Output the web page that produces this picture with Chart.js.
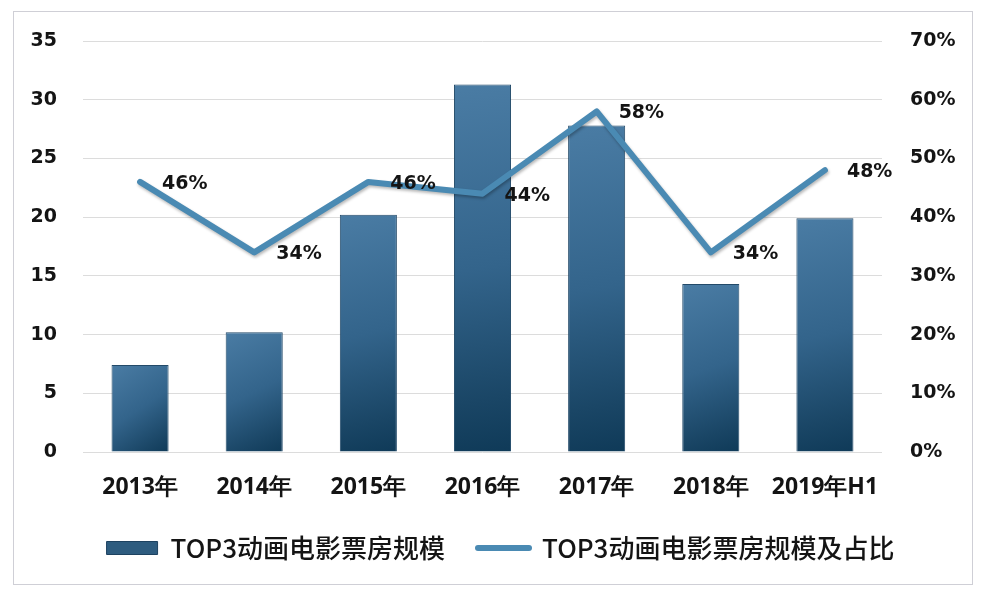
<!DOCTYPE html>
<html><head><meta charset="utf-8">
<script src="https://cdn.jsdelivr.net/npm/chart.js@4.4.1/dist/chart.umd.min.js"></script>
<style>
html,body{margin:0;padding:0;background:#fff;width:984px;height:594px;overflow:hidden}
#frame{position:absolute;left:13px;top:11px;width:958px;height:572px;border:1px solid #cfcfd6;}
#wrap{position:absolute;left:0;top:0;width:984px;height:594px}
</style></head><body>
<div id="frame"></div>
<div id="wrap"><canvas id="c" width="984" height="594"></canvas></div>
<script>
const categories = ['2013年', '2014年', '2015年', '2016年', '2017年', '2018年', '2019年H1'];
const boxOffice = [7.4, 10.2, 20.2, 31.3, 27.8, 14.3, 19.9];
const sharePct = [46, 34, 46, 44, 58, 34, 48];
const seriesNames = ['TOP3动画电影票房规模', 'TOP3动画电影票房规模及占比'];
const leftAxis = { min: 0, max: 35, step: 5 };
const rightAxis = { min: 0, max: 70, step: 10 };

const lineColor = '#4a8ab3';
const textColor = '#141414';
const tickFont = { family: '"DejaVu Sans"', size: 19, weight: 'bold' };

function barGradient(ctx) {
  const chart = ctx.chart;
  if (!chart.chartArea || ctx.type !== 'data') return '#2f5d80';
  const xs = chart.scales.x, ys = chart.scales.y;
  const cx = xs.getPixelForValue(ctx.dataIndex);
  const half = xs.width / categories.length * 0.25;
  const top = ys.getPixelForValue(ctx.raw);
  const base = ys.getPixelForValue(0);
  const g = chart.ctx.createLinearGradient(cx - half, top, cx + half, base);
  g.addColorStop(0, '#4a7ca4');
  g.addColorStop(0.5, '#33648b');
  g.addColorStop(0.85, '#1a4666');
  g.addColorStop(1, '#0f3a58');
  return g;
}

const lineExtras = {
  id: 'lineExtras',
  beforeDatasetDraw(chart, args) {
    if (args.index === 1) {
      const c = chart.ctx;
      c.save();
      c.shadowColor = 'rgba(0,0,0,0.28)';
      c.shadowBlur = 3;
      c.shadowOffsetX = 1;
      c.shadowOffsetY = 2;
    }
  },
  afterDatasetDraw(chart, args) {
    if (args.index === 1) chart.ctx.restore();
  },
  afterDatasetsDraw(chart) {
    const meta = chart.getDatasetMeta(1);
    const c = chart.ctx;
    c.save();
    c.font = 'bold 19px "DejaVu Sans"';
    c.fillStyle = textColor;
    c.textAlign = 'left';
    c.textBaseline = 'middle';
    meta.data.forEach((pt, i) => {
      c.fillText(sharePct[i] + '%', pt.x + 22, pt.y + 2);
    });
    c.restore();
  }
};

new Chart(document.getElementById('c'), {
  data: {
    labels: categories,
    datasets: [
      {
        type: 'bar',
        label: seriesNames[0],
        data: boxOffice,
        yAxisID: 'y',
        backgroundColor: barGradient,
        borderColor: '#234a69',
        borderWidth: 1,
        categoryPercentage: 1.0,
        barPercentage: 0.5,
        order: 1
      },
      {
        type: 'line',
        label: seriesNames[1],
        data: sharePct,
        yAxisID: 'y1',
        borderColor: lineColor,
        backgroundColor: lineColor,
        borderWidth: 6,
        borderCapStyle: 'round',
        borderJoinStyle: 'round',
        pointRadius: 0,
        tension: 0,
        order: 0
      }
    ]
  },
  options: {
    responsive: false,
    animation: false,
    devicePixelRatio: 1,
    layout: { padding: { top: 41, left: 17, right: 0, bottom: 23 } },
    plugins: {
      tooltip: { enabled: false },
      legend: {
        position: 'bottom',
        labels: {
          usePointStyle: true,
          pointStyleWidth: 51,
          boxHeight: 13,
          padding: 33,
          color: textColor,
          font: { family: '"Noto Sans CJK SC"', size: 26, weight: '500' },
          generateLabels: () => [
            { text: seriesNames[0], fillStyle: '#2e5c7f', strokeStyle: '#1d4260', lineWidth: 1, pointStyle: 'rect', datasetIndex: 0, hidden: false, fontColor: textColor },
            { text: seriesNames[1], fillStyle: lineColor, strokeStyle: lineColor, lineWidth: 6, lineCap: 'round', pointStyle: 'line', datasetIndex: 1, hidden: false, fontColor: textColor }
          ]
        }
      }
    },
    scales: {
      x: {
        grid: { display: false, drawTicks: false },
        border: { display: false },
        ticks: { color: textColor, padding: 22, font: { family: '"Open Sans"', size: 23, weight: 'bold' }, maxRotation: 0 },
        afterFit: s => { s.height = 50; }
      },
      y: {
        position: 'left',
        min: leftAxis.min, max: leftAxis.max,
        ticks: { stepSize: leftAxis.step, color: textColor, padding: 26, font: tickFont },
        grid: { color: '#dcdcdc', lineWidth: 1, drawTicks: false },
        border: { display: false },
        afterFit: s => { s.width = 66; }
      },
      y1: {
        position: 'right',
        min: rightAxis.min, max: rightAxis.max,
        ticks: { stepSize: rightAxis.step, color: textColor, padding: 28, font: tickFont, callback: v => v + '%' },
        grid: { drawOnChartArea: false, drawTicks: false },
        border: { display: false },
        afterFit: s => { s.width = 102; }
      }
    }
  },
  plugins: [lineExtras]
});
</script>
</body></html>
